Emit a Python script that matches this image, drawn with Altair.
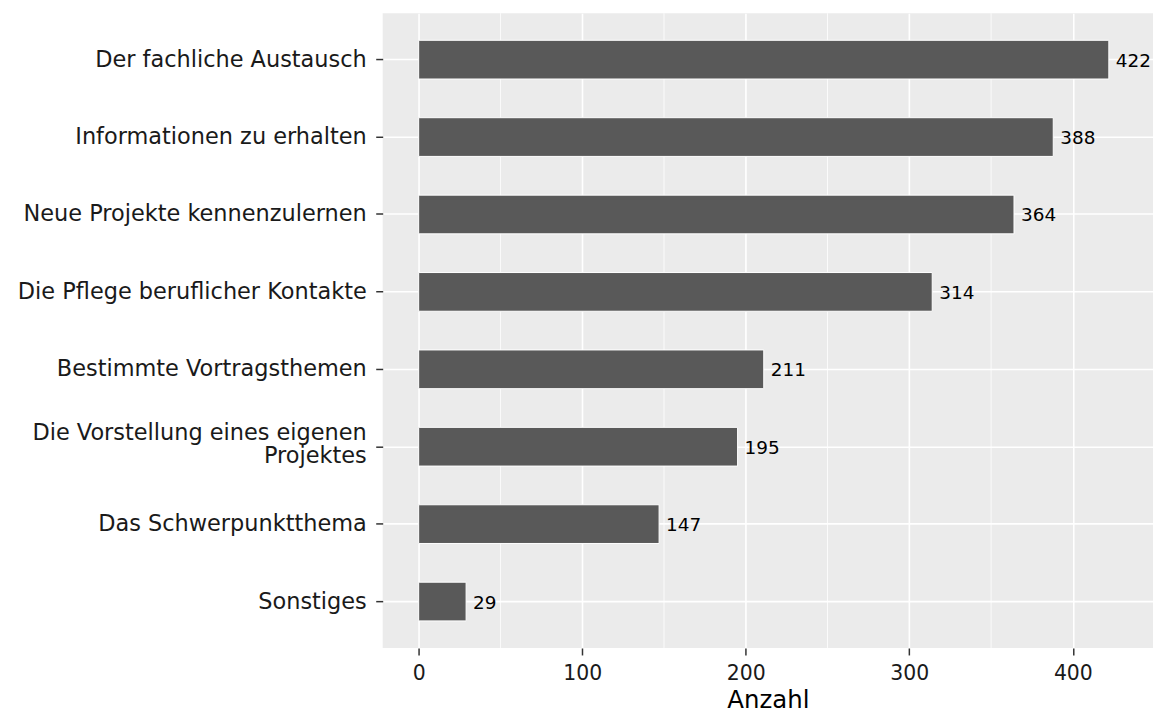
import altair as alt
import pandas as pd

categories = [
    "Der fachliche Austausch",
    "Informationen zu erhalten",
    "Neue Projekte kennenzulernen",
    "Die Pflege beruflicher Kontakte",
    "Bestimmte Vortragsthemen",
    "Die Vorstellung eines eigenen Projektes",
    "Das Schwerpunktthema",
    "Sonstiges",
]
label_line1 = [
    "Der fachliche Austausch",
    "Informationen zu erhalten",
    "Neue Projekte kennenzulernen",
    "Die Pflege beruflicher Kontakte",
    "Bestimmte Vortragsthemen",
    "Die Vorstellung eines eigenen",
    "Das Schwerpunktthema",
    "Sonstiges",
]
label_line2 = ["", "", "", "", "", "Projektes", "", ""]
counts = [422, 388, 364, 314, 211, 195, 147, 29]
major_breaks = [0, 100, 200, 300, 400]
minor_breaks = [50, 150, 250, 350]

df = pd.DataFrame({"cat": categories, "n": counts, "l1": label_line1, "l2": label_line2})
df["multi"] = df["l2"] != ""
minor_df = pd.DataFrame({"v": minor_breaks})

FONT = "DejaVu Sans"
xscale = alt.Scale(domain=[-22, 449], nice=False, zero=False)
yscale = alt.Scale(domain=categories, paddingInner=0.5, paddingOuter=0.35)
ycat = alt.Y("cat:N", scale=yscale, sort=categories)

minor = alt.Chart(minor_df).mark_rule(color="white", strokeWidth=0.8).encode(
    x=alt.X("v:Q", scale=xscale)
)

bars = alt.Chart(df).mark_bar(color="#595959", stroke="white", strokeWidth=1).encode(
    x=alt.X(
        "n:Q",
        scale=xscale,
        title="Anzahl",
        axis=alt.Axis(
            values=major_breaks,
            grid=True,
            gridColor="white",
            gridWidth=1.6,
            domain=False,
            tickColor="#333333",
            tickSize=7,
            tickWidth=1.5,
            labelFont=FONT,
            labelFontSize=20.5,
            labelColor="#1a1a1a",
            labelPadding=9,
            titleFont=FONT,
            titleFontSize=24.5,
            titleFontWeight="normal",
            titleColor="black",
            titlePadding=4,
        ),
    ),
    y=alt.Y(
        "cat:N",
        scale=yscale,
        sort=categories,
        title=None,
        axis=alt.Axis(
            grid=True,
            gridColor="white",
            gridWidth=1.6,
            bandPosition=0.5,
            domain=False,
            tickColor="#333333",
            tickSize=7,
            tickWidth=1.5,
            labels=False,
        ),
    ),
)

text = alt.Chart(df).mark_text(
    align="left", baseline="middle", dx=7, dy=1, font=FONT, fontSize=18.5, color="black"
).encode(
    x=alt.X("n:Q", scale=xscale),
    y=ycat,
    text="n:Q",
)

lab_style = dict(align="right", baseline="middle", font=FONT, fontSize=22.5, color="#1a1a1a")
lab_single = alt.Chart(df).transform_filter("!datum.multi").mark_text(dy=0, **lab_style).encode(
    x=alt.value(-16), y=ycat, text="l1:N"
)
lab_top = alt.Chart(df).transform_filter("datum.multi").mark_text(dy=-13.5, **lab_style).encode(
    x=alt.value(-16), y=ycat, text="l1:N"
)
lab_bot = alt.Chart(df).transform_filter("datum.multi").mark_text(dy=9.5, **lab_style).encode(
    x=alt.value(-16), y=ycat, text="l2:N"
)

chart = (
    alt.layer(minor, bars, text, lab_single, lab_top, lab_bot)
    .properties(
        width=773,
        height=637,
        autosize=alt.AutoSizeParams(type="none"),
        padding={"left": 376, "top": 4, "right": 0, "bottom": 60},
    )
    .configure_view(fill="#EBEBEB", stroke=None)
)

chart.save("out.html", embed_options={"renderer": "svg", "actions": False})
